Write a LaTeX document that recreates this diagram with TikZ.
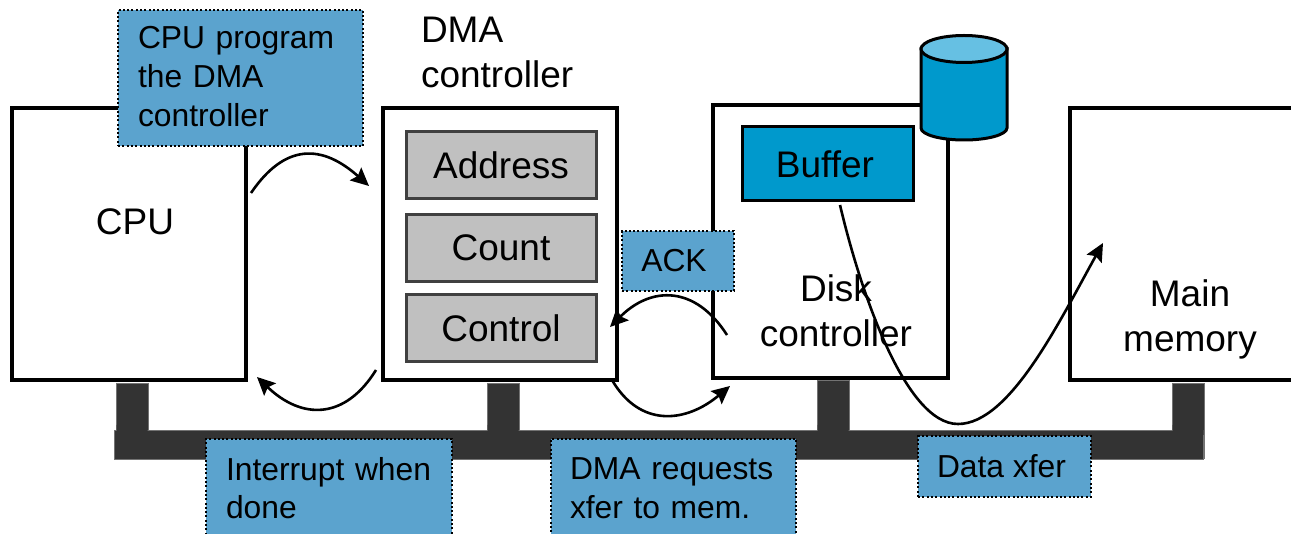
\documentclass[tikz,border=0pt]{standalone}
\usepackage{fontspec}
\setmainfont{Liberation Sans}
\usetikzlibrary{arrows.meta}
\definecolor{lblblue}{HTML}{5BA3CE}
\definecolor{teal}{HTML}{0099CC}
\definecolor{tealtop}{HTML}{66C0E3}
\definecolor{busgray}{HTML}{333333}
\definecolor{reggray}{HTML}{C0C0C0}
\newcommand{\bignodefont}{\fontsize{37}{45}\selectfont}
\newcommand{\smallnodefont}{\fontsize{31.8}{38.7}\selectfont}
\tikzset{
  every node/.style={outer sep=0pt},
  unitbox/.style={draw=black,fill=white,line width=4pt,anchor=north west,inner sep=0pt,font=\bignodefont,align=center},
  reg/.style={draw=black!75,fill=reggray,line width=3pt,anchor=north west,inner sep=0pt,minimum width=190pt,font=\bignodefont},
  lbl/.style={draw=black,dash pattern=on 2pt off 2.3pt,fill=lblblue,line width=2pt,anchor=north west,inner sep=0pt,font=\smallnodefont,align=left},
  bus/.style={fill=busgray,draw=black!55,line width=0.7pt,inner sep=0pt,anchor=north west},
  curve/.style={draw=black,line width=2.6pt,-{Stealth[length=18pt,width=17pt,inset=3pt]}}
}
\begin{document}
\begin{tikzpicture}[x=1pt,y=-1pt]
\useasboundingbox (0,0) rectangle (1291,534);
\clip (0,0) rectangle (1291,534);
% bus
\node[bus,minimum width=32pt,minimum height=50pt] (s1) at (116,383) {};
\node[bus,minimum width=32pt,minimum height=50pt] (s2) at (487,383) {};
\node[bus,minimum width=32pt,minimum height=52pt] (s3) at (817,380) {};
\node[bus,minimum width=32pt,minimum height=75pt] (s4) at (1172,383) {};
\node[bus,minimum width=1089pt,minimum height=29pt] (busbar) at (114,430) {};
\fill[busgray] (116.500,425) rectangle (147.500,435) (487.500,425) rectangle (518.500,435) (817.500,425) rectangle (848.500,435) (1172.500,425) rectangle (1203.500,435);
% units
\node[unitbox,minimum width=234pt,minimum height=272pt] (cpu) at (12,108) {};
\node[font=\bignodefont] (cputext) at (135,222) {CPU};
\node[unitbox,minimum width=234pt,minimum height=272pt] (dma) at (383,108) {};
\node[unitbox,minimum width=235pt,minimum height=273pt] (disk) at (713,105) {};
\node[unitbox,minimum width=240pt,minimum height=272pt] (mem) at (1070,108) {};
\node[font=\bignodefont,align=center] (memtext) at (1190,319) {Main\\memory};
\node[font=\bignodefont,align=center] (disktext) at (836,311) {Disk\\controller};
\node[font=\bignodefont,align=left,anchor=north west,inner sep=0pt] (dmatitle) at (421,17) {DMA\\controller};
% registers
\node[reg,minimum height=67pt] (addr) at (406,132) {Address};
\node[reg,minimum height=67pt] (count) at (406,214.500) {Count};
\node[reg,minimum height=67pt] (ctrl) at (406,295) {Control};
\node[draw=black,fill=teal,line width=3pt,anchor=north west,inner sep=0pt,minimum width=171pt,minimum height=74pt,font=\bignodefont] (buffer) at (742.500,127) {\hspace*{-3pt}Buffer\hspace*{3pt}};
% disk cylinder
\path[draw=black,fill=teal,line width=3pt] (921,48.500) -- (921,128) arc[start angle=180,end angle=0,x radius=43,y radius=12] -- (1007,48.500) -- cycle;
\path[draw=black,fill=tealtop,line width=3pt] (964,49) ellipse[x radius=43,y radius=13.500];
% labels
\node[lbl,minimum width=245pt,minimum height=136pt,text width=225pt,inner xsep=10pt] (l1) at (118,10) {\hspace*{10pt}CPU program\\\hspace*{10pt}the DMA\\\hspace*{10pt}controller\rule[-3pt]{0pt}{0pt}};
\node[lbl,minimum width=112pt,minimum height=60pt] (l2) at (622,231) {\hspace*{15pt}ACK\hspace*{23pt}};
\node[lbl,minimum width=246pt,minimum height=98pt,text width=226pt,inner xsep=10pt] (l3) at (206,439) {\hspace*{10pt}Interrupt when\\\hspace*{10pt}done};
\node[lbl,minimum width=245pt,minimum height=98pt,text width=225pt,inner xsep=10pt] (l4) at (551,439) {\hspace*{9pt}DMA requests\\\hspace*{9pt}xfer to mem.};
\node[lbl,minimum width=173pt,minimum height=60pt] (l5) at (918,436.500) {\hspace*{-3pt}Data xfer\hspace*{3pt}};
% connector ends
\coordinate (a1) at (251,193); \coordinate (b1) at (369,186);
\coordinate (a2) at (727,335); \coordinate (b2) at (610,327);
\coordinate (a3) at (376,370); \coordinate (b3) at (257,377);
\coordinate (a4) at (612,380); \coordinate (b4) at (730,386);
\coordinate (a5) at (840,205); \coordinate (m5) at (958,424); \coordinate (b5) at (1103,243);
\draw[curve] (a1) .. controls (285,143) and (322,144) .. (b1);
\draw[curve] (a2) .. controls (695,285) and (651,286) .. (b2);
\draw[curve] (a3) .. controls (345,420) and (302,420) .. (b3);
\draw[curve] (a4) .. controls (640,428) and (686,423) .. (b4);
\draw[curve] (a5) .. controls (860,290) and (905,424) .. (m5) .. controls (1010,424) and (1060,320) .. (b5);
\end{tikzpicture}
\end{document}
